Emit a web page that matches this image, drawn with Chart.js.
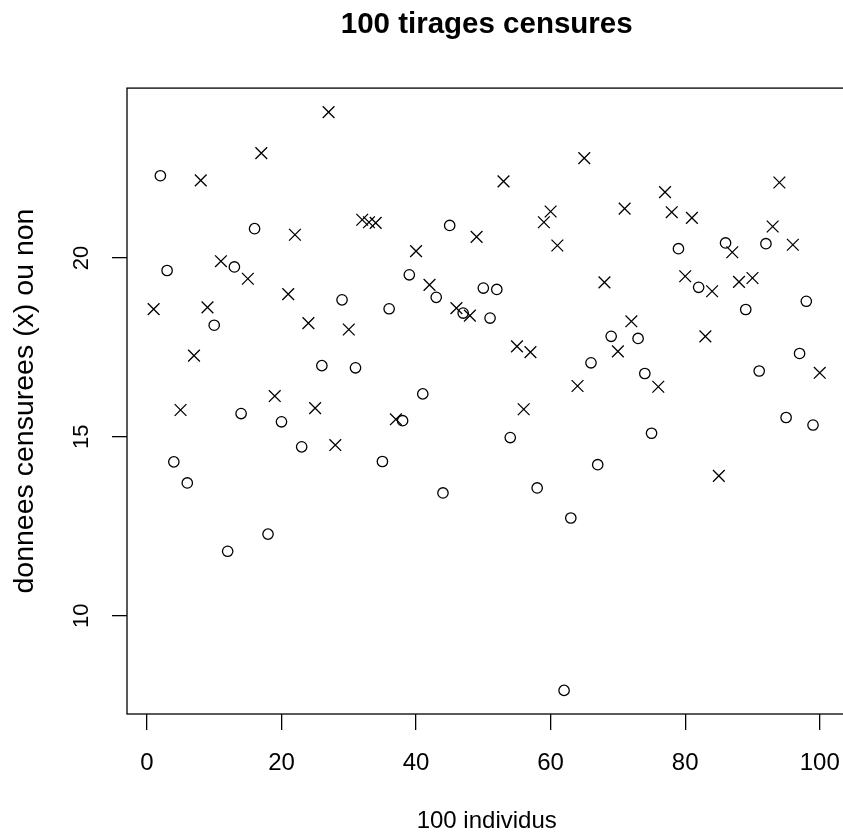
<!DOCTYPE html>
<html>
<head>
<meta charset="utf-8">
<script src="https://cdn.jsdelivr.net/npm/chart.js@4"></script>
<style>
  html, body { margin: 0; padding: 0; background: #fff; overflow: hidden; }
  #wrap { width: 856px; height: 832px; }
</style>
</head>
<body>
<div id="wrap"><canvas id="plot" width="856" height="832"></canvas></div>
<script>
"use strict";

const TITRE = "100 tirages censures";
const X_TITRE = "100 individus";
const Y_TITRE = "donnees censurees (x) ou non";

const X_TICKS = [0, 20, 40, 60, 80, 100];
const Y_TICKS = [10, 15, 20];

// valeur tiree pour chaque individu (1..100)
const VALEURS = [
  18.57, 22.30, 19.65, 14.30, 15.75, 13.71, 17.27, 22.17, 18.62, 18.12,
  19.91, 11.80, 19.75, 15.65, 19.42, 20.82, 22.93, 12.28, 16.14, 15.42,
  18.99, 20.65, 14.72, 18.18, 15.80, 16.99, 24.08, 14.77, 18.83, 18.00,
  16.93, 21.07, 21.00, 20.98, 14.31, 18.58, 15.49, 15.45, 19.53, 20.19,
  16.20, 19.25, 18.90, 13.43, 20.91, 18.60, 18.46, 18.39, 20.59, 19.16,
  18.32, 19.12, 22.14, 14.98, 17.53, 15.77, 17.37, 13.57, 21.00, 21.30,
  20.35, 7.91, 12.73, 16.42, 22.79, 17.07, 14.22, 19.32, 17.81, 17.39,
  21.38, 18.23, 17.75, 16.77, 15.10, 16.40, 21.84, 21.28, 20.26, 19.49,
  21.12, 19.18, 17.81, 19.07, 13.91, 20.42, 20.16, 19.33, 18.56, 19.44,
  16.84, 20.40, 20.88, 22.11, 15.54, 20.37, 17.33, 18.79, 15.33, 16.79,
];

// 1 = censuree (croix), 0 = non censuree (rond)
const CENSURE = [
  1, 0, 0, 0, 1, 0, 1, 1, 1, 0,
  1, 0, 0, 0, 1, 0, 1, 0, 1, 0,
  1, 1, 0, 1, 1, 0, 1, 1, 0, 1,
  0, 1, 1, 1, 0, 0, 1, 0, 0, 1,
  0, 1, 0, 0, 0, 1, 0, 1, 1, 0,
  0, 0, 1, 0, 1, 1, 1, 0, 1, 1,
  1, 0, 0, 1, 1, 0, 0, 1, 0, 1,
  1, 1, 0, 0, 0, 1, 1, 1, 0, 1,
  1, 0, 1, 1, 1, 0, 1, 1, 0, 1,
  0, 0, 1, 1, 0, 1, 0, 0, 0, 1,
];

const INDIVIDUS = VALEURS.map((_, i) => i + 1);

const FONT = "'Liberation Sans', Arial, Helvetica, sans-serif";

const points = (flag) =>
  INDIVIDUS.map((x, i) => ({ x, y: VALEURS[i], c: CENSURE[i] }))
    .filter((p) => p.c === flag)
    .map((p) => ({ x: p.x, y: p.y }));

// cadre complet autour de la zone de trace (comme box() dans R)
const boxPlugin = {
  id: "box",
  afterDraw(chart) {
    const { ctx, chartArea: a } = chart;
    ctx.save();
    ctx.strokeStyle = "#000";
    ctx.lineWidth = 1.3;
    ctx.strokeRect(a.left, a.top, a.right - a.left, a.bottom - a.top);
    ctx.restore();
  },
};

const axisGrid = (len) => ({
  drawOnChartArea: false,
  drawTicks: true,
  tickLength: len,
  color: "#000",
  lineWidth: 1.3,
});

new Chart(document.getElementById("plot"), {
  type: "scatter",
  data: {
    datasets: [
      {
        label: "non censurees",
        data: points(0),
        pointStyle: "circle",
        pointRadius: 5.2,
        borderColor: "#000",
        backgroundColor: "rgba(0,0,0,0)",
        borderWidth: 1.3,
      },
      {
        label: "censurees",
        data: points(1),
        pointStyle: "crossRot",
        pointRadius: 8.3,
        borderColor: "#000",
        backgroundColor: "rgba(0,0,0,0)",
        borderWidth: 1.3,
      },
    ],
  },
  options: {
    responsive: false,
    animation: false,
    layout: { padding: { right: 5 } },
    plugins: {
      legend: { display: false },
      tooltip: { enabled: false },
      title: {
        display: true,
        text: TITRE,
        fullSize: false,
        color: "#000",
        font: { family: FONT, size: 29.5, weight: "bold", lineHeight: 1.2 },
        padding: { top: 6.8, bottom: 45.9 },
      },
    },
    scales: {
      x: {
        type: "linear",
        min: -2.96,
        max: 103.96,
        afterBuildTicks: (s) => { s.ticks = X_TICKS.map((v) => ({ value: v })); },
        afterFit: (s) => { s.height = 118; s.paddingLeft = 0; s.paddingRight = 0; },
        border: { display: false },
        grid: axisGrid(16),
        ticks: {
          color: "#000",
          font: { family: FONT, size: 24 },
          padding: 18.6,
          maxRotation: 0,
          autoSkip: false,
        },
        title: {
          display: true,
          text: X_TITRE,
          color: "#000",
          font: { family: FONT, size: 24, lineHeight: 0.8 },
          padding: { top: 0, bottom: 1.4 },
        },
      },
      y: {
        type: "linear",
        min: 7.25,
        max: 24.75,
        afterBuildTicks: (s) => { s.ticks = Y_TICKS.map((v) => ({ value: v })); },
        afterFit: (s) => { s.width = 127; s.paddingTop = 0; s.paddingBottom = 0; },
        border: { display: false },
        grid: axisGrid(15),
        ticks: {
          color: "#000",
          font: { family: FONT, size: 22 },
          padding: 17.8,
          minRotation: 90,
          maxRotation: 90,
          crossAlign: "center",
          autoSkip: false,
        },
        title: {
          display: true,
          text: Y_TITRE,
          color: "#000",
          font: { family: FONT, size: 28.5, lineHeight: 1.2 },
          padding: { top: 7.9, bottom: 0 },
        },
      },
    },
  },
  plugins: [boxPlugin],
});
</script>
</body>
</html>
